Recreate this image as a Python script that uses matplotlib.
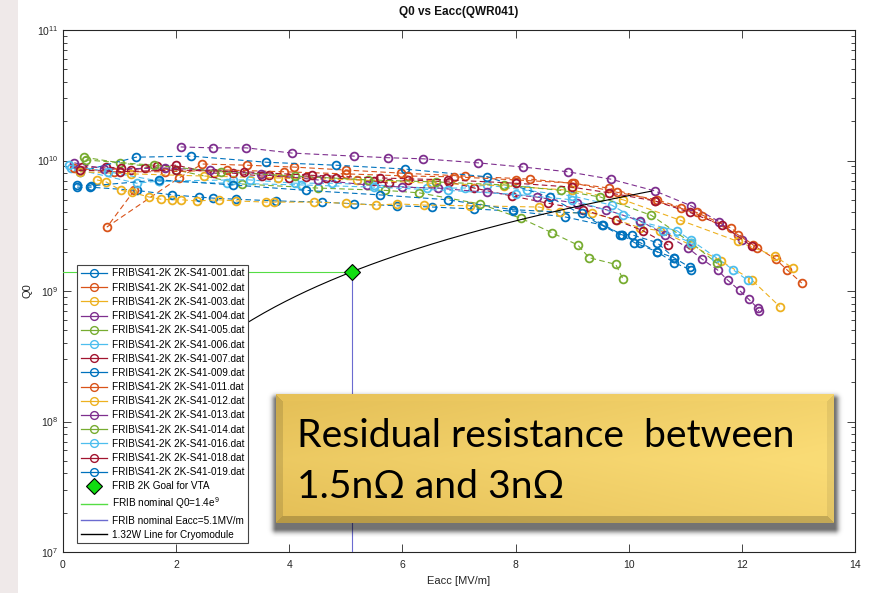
import numpy as np
import matplotlib
matplotlib.use("Agg")
import matplotlib.pyplot as plt
from matplotlib.lines import Line2D
from matplotlib.patches import Rectangle

plt.rcParams['font.family'] = ['Liberation Sans', 'DejaVu Sans']
plt.rcParams['mathtext.fontset'] = 'custom'
plt.rcParams['mathtext.rm'] = 'Liberation Sans'
plt.rcParams['mathtext.it'] = 'Liberation Sans:italic'

# ---- measured runs: Eacc [MV/m] and Q0 [x1e9] ----
e_001 = [0.25, 0.48, 1.3, 1.93, 2.4, 2.65, 3.06, 3.77, 4.58, 5.15, 5.9, 6.53, 7.27, 7.95, 8.87, 9.54, 9.88, 10.1, 10.5, 10.8, 11.08]
q_001 = [6.25, 6.25, 5.9, 5.45, 5.25, 5.15, 5.05, 4.9, 4.8, 4.65, 4.5, 4.4, 4.25, 4.1, 3.7, 3.2, 2.7, 2.35, 2.0, 1.8, 1.52]

e_002 = [1.26, 0.78, 2.05, 2.46, 3.26, 4.09, 5.0, 5.98, 7.1, 8.25, 9.0, 9.65, 10.46, 10.93, 11.3, 11.93, 12.27, 12.6, 12.8, 13.06]
q_002 = [5.9, 3.1, 7.35, 9.4, 9.2, 8.9, 8.45, 8.0, 7.6, 7.2, 6.7, 6.15, 4.9, 4.3, 3.75, 2.7, 2.15, 1.75, 1.45, 1.15]

e_003 = [0.6, 0.76, 1.03, 1.22, 1.52, 1.73, 1.93, 2.09, 2.37, 2.76, 3.06, 3.59, 3.73, 4.44, 5.0, 5.54, 5.91, 6.39, 7.19, 8.42, 8.78, 9.35, 9.79, 10.2, 10.55, 11.1, 11.63, 12.18, 12.67]
q_003 = [7.1, 6.85, 5.9, 5.7, 5.25, 5.05, 5.0, 5.0, 4.9, 5.0, 4.9, 4.8, 4.8, 4.8, 4.7, 4.55, 4.65, 4.55, 4.5, 4.4, 4.0, 3.95, 3.5, 3.05, 2.9, 2.25, 1.7, 1.21, 0.76]

e_004 = [2.08, 2.65, 3.24, 4.05, 5.15, 5.75, 6.37, 7.33, 8.14, 8.92, 9.68, 10.46, 11.1, 11.6, 12.0]
q_004 = [12.7, 12.5, 12.5, 11.4, 10.8, 10.5, 10.3, 9.6, 8.9, 8.2, 7.2, 5.85, 4.5, 3.4, 2.45]

e_005 = [0.37, 1.0, 2.0, 3.17, 4.5, 5.7, 6.3, 7.37, 8.1, 8.64, 9.1, 9.3, 9.77, 9.9]
q_005 = [10.6, 9.6, 8.45, 6.6, 6.15, 5.9, 5.65, 4.65, 3.6, 2.8, 2.25, 1.8, 1.6, 1.23]

e_006 = [0.15, 1.3, 1.7, 3.0, 3.3, 4.1, 4.76, 5.5, 6.44, 7.1, 7.49, 8.2, 9.0, 9.7, 10.2, 10.85, 11.1, 11.55, 11.85, 12.1]
q_006 = [8.75, 6.7, 6.95, 7.1, 7.1, 6.7, 6.7, 6.5, 6.15, 6.15, 6.5, 5.9, 5.35, 4.55, 3.4, 2.9, 2.45, 1.8, 1.45, 1.21]

e_007 = [0.34, 0.76, 1.03, 1.2, 1.45, 1.66, 2.0, 2.67, 3.0, 3.52, 3.65, 4.0, 4.3, 4.65, 4.83, 5.5, 5.77, 6.1, 6.83, 7.27, 7.93, 8.58, 9.2, 9.77, 10.25, 10.7]
q_007 = [8.9, 8.9, 8.75, 8.45, 8.75, 9.1, 9.2, 8.0, 8.0, 7.6, 7.7, 7.35, 7.5, 7.35, 7.35, 6.95, 6.7, 7.1, 6.85, 6.15, 5.35, 4.7, 4.2, 3.5, 2.9, 2.25]

e_009 = [0.3, 1.29, 2.27, 3.59, 4.83, 6.04, 7.5, 8.6, 9.52, 9.84, 10.05, 10.5, 10.8]
q_009 = [8.2, 10.6, 10.8, 9.7, 9.2, 8.6, 7.5, 5.25, 3.2, 2.7, 2.7, 2.35, 1.8]

e_011 = [0.2, 0.9, 1.8, 2.9, 3.9, 5.0, 6.1, 6.92, 8.0, 9.04, 9.8, 10.5, 11.2, 11.8, 12.2]
q_011 = [8.75, 8.2, 8.2, 8.45, 8.2, 7.9, 7.6, 7.5, 7.1, 6.7, 5.7, 5.0, 4.0, 3.05, 2.25]

e_012 = [0.3, 1.2, 2.5, 3.8, 5.2, 6.5, 7.8, 9.0, 9.9, 10.9, 11.93, 12.58, 12.9]
q_012 = [8.2, 7.9, 7.6, 7.35, 7.1, 6.7, 6.4, 5.9, 5.0, 3.5, 2.4, 1.85, 1.5]

e_013 = [0.2, 0.73, 1.8, 2.6, 3.5, 4.5, 5.38, 6.0, 6.62, 7.5, 8.37, 9.08, 9.6, 10.2, 10.65, 11.04, 11.3, 11.57, 11.75, 11.96, 12.12, 12.28, 12.3]
q_013 = [9.6, 8.6, 8.75, 8.45, 7.9, 7.1, 6.5, 6.25, 6.15, 5.7, 5.25, 4.7, 4.2, 3.45, 2.7, 2.15, 1.75, 1.45, 1.21, 1.01, 0.865, 0.74, 0.70]

e_014 = [0.4, 1.6, 2.8, 4.1, 5.4, 6.6, 7.8, 8.8, 9.5, 10.4, 11.1, 11.56]
q_014 = [10.1, 9.2, 8.2, 7.6, 7.1, 6.85, 6.5, 5.9, 5.25, 3.8, 2.35, 1.63]

e_016 = [0.1, 0.8, 1.7, 2.9, 4.2, 5.5, 6.8, 8.0, 9.0, 9.9, 10.6, 11.1]
q_016 = [9.2, 8.2, 6.95, 6.7, 6.5, 6.25, 5.9, 5.5, 5.0, 3.8, 2.9, 2.35]

e_018 = [0.3, 1.0, 2.0, 3.2, 4.4, 5.6, 6.8, 8.0, 9.0, 9.66, 10.46, 11.08, 11.65, 12.18]
q_018 = [8.45, 8.2, 8.45, 8.2, 7.7, 7.35, 7.1, 6.7, 6.25, 5.65, 4.9, 4.0, 3.2, 2.2]

e_019 = [0.25, 0.5, 1.7, 3.0, 4.3, 5.6, 6.8, 7.95, 9.17, 9.88, 10.2, 10.5, 10.8, 11.1]
q_019 = [6.5, 6.4, 7.1, 6.5, 5.9, 5.45, 5.0, 4.2, 3.95, 2.7, 2.35, 2.0, 1.65, 1.45]

run_ids = ['001', '002', '003', '004', '005', '006', '007', '009',
           '011', '012', '013', '014', '016', '018', '019']
run_e = [e_001, e_002, e_003, e_004, e_005, e_006, e_007, e_009,
         e_011, e_012, e_013, e_014, e_016, e_018, e_019]
run_q = [q_001, q_002, q_003, q_004, q_005, q_006, q_007, q_009,
         q_011, q_012, q_013, q_014, q_016, q_018, q_019]

# FRIB targets
q0_nominal = 1.4e9
eacc_nominal = 5.1
cryo_e_start, cryo_e_end = 1.0, 10.4

matlab_colors = ['#0072BD', '#D95319', '#EDB120', '#7E2F8E',
                 '#77AC30', '#4DBEEE', '#A2142F']

W, H = 870, 593
fig = plt.figure(figsize=(W / 100, H / 100), dpi=100)
fig.patches.append(Rectangle((0, 0), 18 / W, 1, transform=fig.transFigure,
                             facecolor='#efe9e9', edgecolor='none', zorder=-5))

ax = fig.add_axes([63 / W, 41 / H, 792 / W, 522 / H])
ax.set_yscale('log')

handles, labels = [], []
for i, (rid, e, q) in enumerate(zip(run_ids, run_e, run_q)):
    col = matlab_colors[i % 7]
    ax.plot(e, np.array(q) * 1e9, linestyle='--', dashes=(5, 3), marker='o',
            color=col, mfc='none', ms=5.6, mew=1.3, lw=0.8)
    handles.append(Line2D([], [], color=col, lw=0.9, marker='o', mfc='none',
                          ms=5.6, mew=1.0))
    labels.append('FRIB\\S41-2K 2K-S41-%s.dat' % rid)

# 1.32 W cryomodule line: Q0 scales with Eacc^2 through the nominal point
cryo_e = np.linspace(cryo_e_start, cryo_e_end, 200)
cryo_q = q0_nominal * (cryo_e / eacc_nominal) ** 2
ax.plot(cryo_e, cryo_q, color='black', lw=0.8, zorder=3)

ax.plot([0, eacc_nominal], [q0_nominal, q0_nominal], color='#55dd44', lw=0.8, zorder=3)
ax.plot([eacc_nominal, eacc_nominal], [1e7, q0_nominal], color='#6b6bd0', lw=0.8, zorder=3)
ax.plot([eacc_nominal], [q0_nominal], marker='D', ms=8, mfc='#11dd11', mec='black',
        mew=0.8, ls='none', zorder=4)

ax.set_xlim(0, 14)
ax.set_ylim(1e7, 1e11)
ax.set_xticks(range(0, 15, 2))
ax.set_yticks([1e7, 1e8, 1e9, 1e10, 1e11])
ax.set_yticklabels([r'$10^{7}$', r'$10^{8}$', r'$10^{9}$', r'$10^{10}$', r'$10^{11}$'])
ax.tick_params(which='both', direction='in', top=True, right=True,
               colors='#262626', labelsize=7.5, width=0.6)
ax.tick_params(which='major', length=6)
ax.tick_params(which='minor', length=3)
ax.tick_params(axis='x', pad=6)
for s in ax.spines.values():
    s.set_color('#262626')
    s.set_linewidth(0.8)

ax.set_xlabel('Eacc [MV/m]', fontsize=8, color='#262626', labelpad=4)
ax.set_ylabel('Q0', fontsize=8, color='#262626', labelpad=3)
fig.text(459 / W, 1 - 12 / H, 'Q0 vs Eacc(QWR041)', fontsize=8.5, fontweight='bold',
         ha='center', va='center', color='#111111')

handles += [Line2D([], [], marker='D', ms=8, mfc='#11dd11', mec='black', mew=0.8, ls='none'),
            Line2D([], [], color='#55dd44', lw=1),
            Line2D([], [], color='#6b6bd0', lw=1),
            Line2D([], [], color='black', lw=1)]
labels += ['FRIB 2K Goal for VTA', r'FRIB nominal Q0=1.4e$^9$',
           'FRIB nominal Eacc=5.1MV/m', '1.32W Line for Cryomodule']
leg = ax.legend(handles, labels, loc='upper left',
                bbox_to_anchor=((77 - 63) / 792, (552 - 265) / 522),
                borderaxespad=0, fontsize=7.2, frameon=True, fancybox=False,
                edgecolor='#444444', framealpha=1, handlelength=2.6,
                handletextpad=0.5, labelspacing=0.42, borderpad=0.35)
leg.get_frame().set_linewidth(0.8)

# callout panel with bevelled gold face and soft drop shadow
ov = fig.add_axes([0, 0, 1, 1], zorder=10)
ov.set_xlim(0, W)
ov.set_ylim(H, 0)
ov.axis('off')

bx0, bx1, by0, by1 = 276, 834, 394, 523
pad = 14
sh_w, sh_h = bx1 - bx0 + 2 * pad, by1 - by0 + 2 * pad
yy, xx = np.mgrid[0:sh_h, 0:sh_w]
ox, oy = 0, 5
dx = np.clip(np.maximum(pad + ox - xx, xx - (sh_w - pad + ox)), 0, None)
dy = np.clip(np.maximum(pad + oy - yy, yy - (sh_h - pad + oy)), 0, None)
d = np.sqrt(dx ** 2 + dy ** 2)
alpha = 0.55 * np.exp(-(d / 4.5) ** 2)
shadow = np.zeros((sh_h, sh_w, 4))
shadow[..., 3] = alpha
ov.imshow(shadow, extent=(bx0 - pad, bx1 + pad, by1 + pad, by0 - pad),
          interpolation='bilinear', zorder=1)

bw, bh = bx1 - bx0, by1 - by0
gy, gx = np.mgrid[0:bh, 0:bw]
u = gx / bw
v = gy / bh
c_dark = np.array([0.88, 0.73, 0.32])
c_light = np.array([0.98, 0.86, 0.46])
t = np.clip(0.6 * u + 0.45 * (1 - np.abs(v - 0.5) * 1.4), 0, 1)[..., None]
face = c_dark * (1 - t) + c_light * t
bev = 7
img = face.copy()
left = gx < bev
right = gx >= bw - bev
top = gy < bev
bottom = gy >= bh - bev
top_m = top & (gy <= gx) & (gy <= bw - 1 - gx)
bot_m = bottom & (bh - 1 - gy <= gx) & (bh - 1 - gy <= bw - 1 - gx)
left_m = left & ~top_m & ~bot_m
right_m = right & ~top_m & ~bot_m
img[top_m] = face[top_m] * 1.01
img[left_m] = face[left_m] * 0.88
img[right_m] = face[right_m] * 0.93
img[bot_m] = face[bot_m] * 0.80
img = np.clip(img, 0, 1)
ov.imshow(img, extent=(bx0, bx1, by1, by0), interpolation='bilinear', zorder=2)

ov.text(297, 447, 'Residual resistance  between', fontsize=28.2, family='Lato',
        color='black', ha='left', va='baseline', zorder=3)
ov.text(297, 498, '1.5nΩ and 3nΩ', fontsize=28.2, family='Lato',
        color='black', ha='left', va='baseline', zorder=3)

fig.savefig('out.png', dpi=100)
